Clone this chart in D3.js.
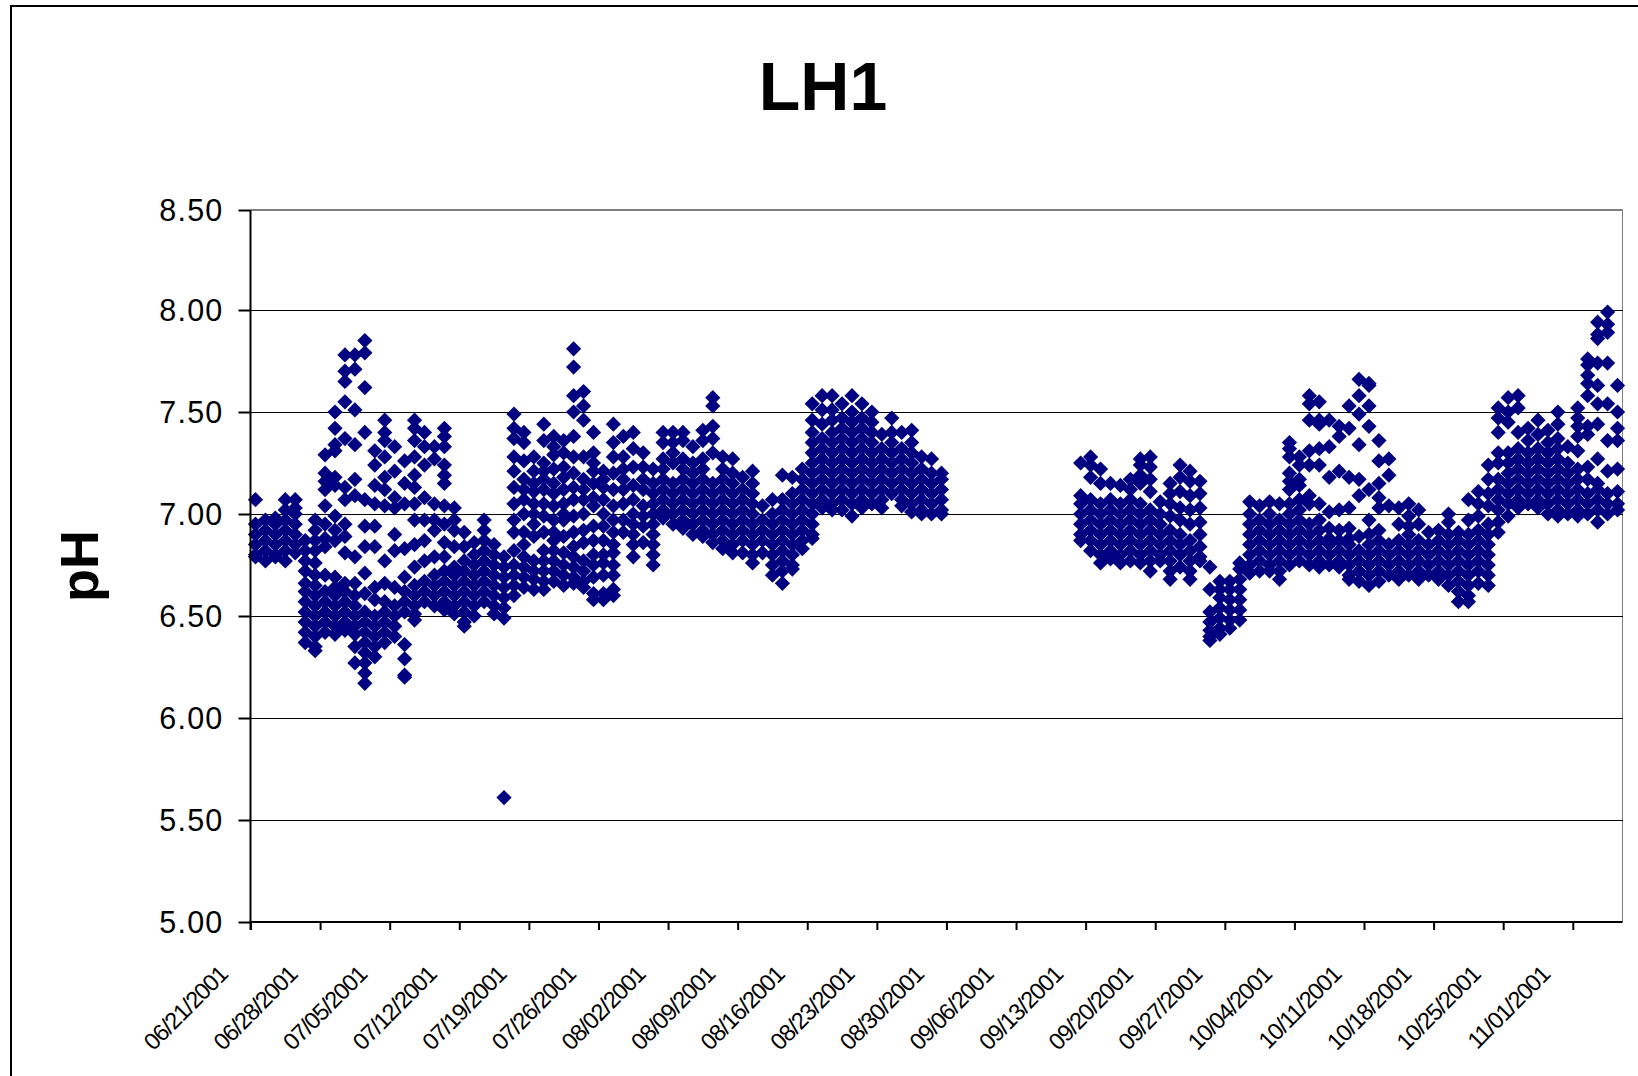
<!DOCTYPE html>
<html><head><meta charset="utf-8">
<script src="https://cdn.jsdelivr.net/npm/d3@7"></script>
<style>html,body{margin:0;padding:0;background:#fff}svg{display:block}</style>
</head><body><svg id="c" width="1638" height="1076"></svg>
<script>
const title = "LH1";
const yLabel = "pH";
const yTicks = [5, 5.5, 6, 6.5, 7, 7.5, 8, 8.5];
const tickDays = [0,7,14,21,28,35,42,49,56,63,70,77,84,91,98,105,112,119,126,133];
const tickLabels = ["06/21/2001","06/28/2001","07/05/2001","07/12/2001","07/19/2001","07/26/2001","08/02/2001","08/09/2001","08/16/2001","08/23/2001","08/30/2001","09/06/2001","09/13/2001","09/20/2001","09/27/2001","10/04/2001","10/11/2001","10/18/2001","10/25/2001","11/01/2001"];
// pH readings per day (day 0 = 06/21/2001)
const juneJuly = [
[0,[7.07,6.95,6.90,6.85,6.80,6.79]],
[1,[6.97,6.92,6.87,6.82,6.77]],
[2,[6.98,6.95,6.90,6.85,6.80,6.79]],
[3,[7.07,7.02,6.97,6.92,6.87,6.82,6.77]],
[4,[7.07,7.03,7.00,6.95,6.90,6.85,6.81]],
[5,[6.87,6.82,6.77,6.72,6.66,6.62,6.57,6.52,6.47,6.42,6.37]],
[6,[6.97,6.92,6.87,6.82,6.76,6.70,6.65,6.60,6.55,6.50,6.45,6.40,6.35,6.33]],
[7,[7.29,7.20,7.16,7.12,7.04,6.95,6.88,6.84,6.70,6.62,6.57,6.52,6.47,6.42]],
[8,[7.50,7.42,7.34,7.31,7.18,7.14,6.99,6.92,6.87,6.69,6.64,6.60,6.55,6.50,6.45,6.41]],
[9,[7.78,7.70,7.65,7.55,7.37,7.13,7.07,6.95,6.89,6.81,6.66,6.62,6.57,6.52,6.47,6.43]],
[10,[7.78,7.71,7.51,7.34,7.17,7.09,6.79,6.66,6.60,6.55,6.50,6.45,6.41,6.35,6.27]],
[11,[7.85,7.79,7.62,7.40,7.07,6.94,6.84,6.71,6.61,6.52,6.47,6.42,6.37,6.32,6.27,6.22,6.17]],
[12,[7.31,7.24,7.14,7.05,6.94,6.84,6.64,6.58,6.50,6.45,6.40,6.35,6.30]],
[13,[7.46,7.40,7.36,7.28,7.18,7.12,7.04,6.77,6.66,6.57,6.52,6.47,6.42,6.37]],
[14,[7.33,7.21,7.08,7.03,6.90,6.82,6.64,6.55,6.50,6.45,6.40]],
[15,[7.26,7.15,7.05,6.83,6.69,6.62,6.57,6.52,6.36,6.29,6.21,6.20]],
[16,[7.46,7.42,7.36,7.28,7.19,7.13,7.05,6.97,6.85,6.74,6.65,6.60,6.55,6.51,6.48]],
[17,[7.40,7.33,7.24,7.08,6.97,6.87,6.77,6.67,6.62,6.57]],
[18,[7.33,7.27,7.05,6.97,6.92,6.79,6.70,6.65,6.60,6.55]],
[19,[7.42,7.38,7.33,7.24,7.19,7.15,7.04,6.95,6.86,6.79,6.72,6.67,6.62,6.57,6.53]],
[20,[7.03,6.97,6.92,6.84,6.74,6.70,6.65,6.60,6.55,6.51]],
[21,[6.91,6.84,6.77,6.72,6.67,6.62,6.57,6.52,6.47,6.45]],
[22,[6.86,6.80,6.75,6.70,6.65,6.60,6.55,6.50]],
[23,[6.97,6.92,6.87,6.82,6.77,6.72,6.67,6.62,6.57]],
[24,[6.85,6.80,6.75,6.70,6.65,6.60,6.55,6.51]],
[25,[6.79,6.74,6.69,6.64,6.59,6.54,6.49,5.61]],
[26,[7.49,7.42,7.37,7.28,7.21,7.13,7.05,6.97,6.91,6.82,6.75,6.70,6.65,6.60]],
[27,[7.40,7.35,7.26,7.17,7.12,7.07,7.00,6.91,6.85,6.79,6.74,6.69,6.64]],
[28,[7.28,7.21,7.15,7.11,7.05,7.00,6.95,6.89,6.77,6.72,6.68,6.63]],
[29,[7.44,7.36,7.25,7.21,7.17,7.12,7.05,6.99,6.91,6.82,6.77,6.72,6.67,6.63]],
[30,[7.38,7.33,7.29,7.22,7.15,7.10,7.04,6.97,6.91,6.87,6.82,6.77,6.72,6.67]],
[31,[7.36,7.30,7.23,7.18,7.12,7.05,7.00,6.97,6.89,6.81,6.75,6.70,6.65]],
[32,[7.81,7.72,7.58,7.50,7.38,7.28,7.20,7.13,7.07,6.99,6.91,6.84,6.79,6.74,6.69,6.66]],
[33,[7.60,7.53,7.46,7.28,7.17,7.12,7.07,7.00,6.92,6.86,6.77,6.72,6.67,6.64]],
[34,[7.40,7.30,7.25,7.21,7.15,7.08,7.04,6.94,6.87,6.80,6.75,6.69,6.61,6.58]],
[35,[7.21,7.17,7.13,7.07,7.00,6.94,6.87,6.80,6.76,6.70,6.61,6.58]],
[36,[7.44,7.35,7.28,7.20,7.12,7.04,6.97,6.91,6.85,6.81,6.75,6.70,6.63,6.60]],
[37,[7.38,7.28,7.22,7.17,7.12,7.05,6.97,6.91]],
[38,[7.40,7.32,7.23,7.14,7.07,7.00,6.95,6.90,6.85,6.79]],
[39,[7.30,7.23,7.17,7.12,7.04,6.99,6.94,6.86]]
];
const august = [
[40,[7.22,7.15,7.10,7.05,7.00,6.95,6.90,6.85,6.80,6.75]],
[41,[7.40,7.35,7.27,7.22,7.17,7.12,7.07,7.02,6.98]],
[42,[7.40,7.35,7.30,7.25,7.15,7.10,7.05,7.00,6.95]],
[43,[7.40,7.36,7.27,7.22,7.17,7.12,7.07,7.02,6.97,6.93]],
[44,[7.33,7.25,7.20,7.15,7.10,7.05,7.00,6.95,6.90]],
[45,[7.41,7.36,7.27,7.22,7.17,7.12,7.07,7.02,6.97,6.92,6.89]],
[46,[7.57,7.53,7.43,7.37,7.30,7.15,7.10,7.05,7.00,6.95,6.90,6.86]],
[47,[7.28,7.22,7.17,7.12,7.07,7.02,6.97,6.92,6.87,6.83]],
[48,[7.27,7.20,7.15,7.10,7.05,7.00,6.95,6.90,6.85,6.81]],
[49,[7.18,7.12,7.07,7.02,6.97,6.92,6.87,6.81]],
[50,[7.21,7.15,7.10,7.05,7.00,6.95,6.90,6.85,6.80,6.76]],
[51,[7.04,6.97,6.92,6.87,6.81]],
[52,[7.07,7.00,6.95,6.90,6.85,6.80,6.75,6.70]],
[53,[7.19,7.07,7.02,6.97,6.92,6.87,6.82,6.77,6.72,6.66]],
[54,[7.18,7.10,7.05,7.00,6.95,6.90,6.85,6.80,6.75,6.73]],
[55,[7.22,7.17,7.12,7.07,7.02,6.97,6.92,6.87,6.83]],
[56,[7.54,7.46,7.40,7.35,7.30,7.25,7.20,7.15,7.10,7.05,7.00,6.95,6.90,6.88]],
[57,[7.58,7.51,7.44,7.37,7.32,7.27,7.22,7.17,7.12,7.07,7.03]],
[58,[7.58,7.51,7.46,7.40,7.35,7.30,7.25,7.20,7.15,7.10,7.05,7.02]],
[59,[7.54,7.47,7.42,7.37,7.32,7.27,7.22,7.17,7.12,7.07,7.02]],
[60,[7.58,7.50,7.45,7.40,7.35,7.30,7.25,7.20,7.15,7.10,7.05,6.99]],
[61,[7.54,7.47,7.42,7.37,7.32,7.27,7.22,7.17,7.12,7.07,7.03]],
[62,[7.50,7.45,7.40,7.35,7.30,7.25,7.20,7.15,7.10,7.05]],
[63,[7.39,7.32,7.27,7.22,7.17,7.12,7.07,7.03]],
[64,[7.47,7.40,7.35,7.30,7.25,7.20,7.15,7.10]],
[65,[7.40,7.32,7.27,7.22,7.17,7.12,7.07,7.04]],
[66,[7.41,7.35,7.30,7.25,7.20,7.15,7.10,7.05,7.01]],
[67,[7.28,7.22,7.17,7.12,7.07,7.02,7.00]],
[68,[7.27,7.20,7.15,7.10,7.05,7.00]],
[69,[7.20,7.17,7.12,7.07,7.02,7.00]]
];
const septOct = [
[83,[7.25,7.09,7.05,7.00,6.95,6.90,6.87]],
[84,[7.28,7.24,7.18,7.07,7.02,6.97,6.92,6.87,6.82]],
[85,[7.22,7.15,7.05,7.00,6.95,6.90,6.85,6.80,6.76]],
[86,[7.15,7.07,7.02,6.97,6.92,6.87,6.82,6.78]],
[87,[7.14,7.05,7.00,6.95,6.90,6.85,6.80,6.76]],
[88,[7.17,7.12,7.07,7.02,6.97,6.92,6.87,6.82,6.77]],
[89,[7.27,7.24,7.19,7.15,7.05,7.00,6.95,6.90,6.85,6.80,6.76]],
[90,[7.28,7.23,7.17,7.11,7.02,6.97,6.92,6.87,6.82,6.77,6.72]],
[91,[7.06,7.00,6.95,6.90,6.85,6.80,6.77]],
[92,[7.15,7.10,7.05,6.99,6.92,6.87,6.82,6.77,6.72,6.68]],
[93,[7.24,7.18,7.11,7.03,6.97,6.90,6.85,6.80,6.74]],
[94,[7.21,7.16,7.09,7.02,6.95,6.87,6.82,6.77,6.72,6.68]],
[95,[7.16,7.10,7.03,6.96,6.90,6.84,6.79,6.77]],
[96,[6.74,6.63,6.52,6.47,6.43,6.40,6.38]],
[97,[6.67,6.63,6.59,6.54,6.49,6.44,6.41]],
[98,[6.67,6.63,6.58,6.53,6.48,6.44]],
[99,[6.76,6.73,6.68,6.63,6.58,6.53,6.48]],
[100,[7.06,7.00,6.95,6.90,6.85,6.80,6.75,6.71]],
[101,[7.04,6.97,6.92,6.87,6.82,6.77,6.72]],
[102,[7.06,7.00,6.95,6.90,6.85,6.80,6.75,6.72]],
[103,[7.05,6.97,6.92,6.87,6.82,6.77,6.72,6.68]],
[104,[7.35,7.32,7.28,7.20,7.16,7.12,7.05,7.00,6.95,6.90,6.85,6.80,6.75]],
[105,[7.28,7.24,7.17,7.14,7.07,7.02,6.97,6.92,6.87,6.82,6.77]],
[106,[7.58,7.54,7.46,7.31,7.24,7.09,7.05,6.95,6.90,6.85,6.80,6.75]],
[107,[7.55,7.46,7.44,7.32,7.24,7.05,6.97,6.92,6.87,6.82,6.77,6.74]],
[108,[7.46,7.33,7.18,7.01,6.93,6.88,6.85,6.80,6.75]],
[109,[7.43,7.38,7.21,7.02,6.92,6.87,6.82,6.77,6.74]]
];
const octNov = [
[110,[7.53,7.42,7.18,7.03,6.93,6.88,6.85,6.80,6.75,6.70,6.68]],
[111,[7.66,7.58,7.49,7.34,7.17,7.09,6.89,6.82,6.77,6.72,6.67]],
[112,[7.64,7.63,7.53,7.43,7.12,6.97,6.90,6.85,6.80,6.75,6.70,6.65]],
[113,[7.36,7.26,7.15,7.08,7.03,6.92,6.87,6.82,6.77,6.72,6.67]],
[114,[7.27,7.19,7.04,6.85,6.80,6.75,6.70]],
[115,[7.03,6.95,6.87,6.82,6.77,6.72,6.68]],
[116,[7.05,6.99,6.94,6.90,6.85,6.80,6.75,6.70]],
[117,[7.02,6.95,6.87,6.82,6.77,6.72,6.68]],
[118,[6.91,6.85,6.80,6.75,6.70]],
[119,[6.92,6.87,6.82,6.77,6.72,6.68]],
[120,[7.00,6.96,6.90,6.85,6.80,6.75,6.70,6.65]],
[121,[6.91,6.87,6.82,6.77,6.72,6.67,6.62,6.57]],
[122,[7.07,6.97,6.90,6.85,6.80,6.75,6.70,6.65,6.60,6.57]],
[123,[7.11,7.05,6.99,6.92,6.87,6.82,6.77,6.72,6.66]],
[124,[7.24,7.17,7.10,7.04,6.95,6.90,6.85,6.80,6.75,6.70,6.65]],
[125,[7.52,7.47,7.40,7.30,7.25,7.17,7.12,7.07,7.02,6.96,6.91]],
[126,[7.57,7.50,7.45,7.30,7.25,7.20,7.15,7.10,7.05,6.99]],
[127,[7.58,7.52,7.40,7.32,7.27,7.22,7.17,7.12,7.07,7.03]],
[128,[7.42,7.36,7.30,7.25,7.20,7.15,7.10,7.05]],
[129,[7.46,7.39,7.32,7.27,7.22,7.17,7.12,7.07,7.03]],
[130,[7.41,7.35,7.30,7.25,7.20,7.15,7.10,7.05,7.00]],
[131,[7.50,7.44,7.37,7.32,7.27,7.22,7.17,7.12,7.07,7.02,6.99]],
[132,[7.33,7.25,7.20,7.15,7.10,7.05,7.00]],
[133,[7.52,7.47,7.43,7.38,7.31,7.22,7.17,7.12,7.07,7.02,6.99]],
[134,[7.76,7.73,7.68,7.64,7.58,7.43,7.39,7.23,7.17,7.10,7.05,7.00]],
[135,[7.94,7.88,7.86,7.74,7.63,7.54,7.44,7.27,7.15,7.12,7.07,7.02,6.96]],
[136,[7.99,7.93,7.89,7.74,7.54,7.36,7.21,7.10,7.05,7.00]],
[137,[7.63,7.50,7.42,7.36,7.22,7.11,7.05,7.02]]
];

const points = [...juneJuly, ...august, ...septOct, ...octNov]
  .flatMap(([day, vals]) => vals.map(v => ({day, v})));

const svg = d3.select("#c");
const font = "'Liberation Sans', Arial, sans-serif";
const navy = "#000080";
const x = d3.scaleLinear().domain([0, 138]).range([250.5, 1622.5]);
const y = d3.scaleLinear().domain([5, 8, 8.5]).range([922, 310, 210]);

// outer frame
svg.append("path").attr("d", "M11,1076V6H1638").attr("fill","none").attr("stroke","#000").attr("stroke-width",2);
// plot frame (top, right)
svg.append("path").attr("d", `M${x(0)},${y(8.5)}H${x(138)}V${y(5)}`).attr("fill","none").attr("stroke","#808080").attr("stroke-width",1.5).attr("shape-rendering","crispEdges");
// gridlines
svg.append("g").selectAll("line").data(yTicks.filter(t=>t>5&&t<8.5)).join("line")
  .attr("x1",x(0)).attr("x2",x(138)).attr("y1",d=>y(d)).attr("y2",d=>y(d))
  .attr("stroke","#000").attr("stroke-width",1).attr("shape-rendering","crispEdges");

// points
svg.append("g").selectAll("path").data(points).join("path")
  .attr("d", d3.symbol(d3.symbolSquare, 116))
  .attr("transform", d => `translate(${x(d.day+0.5)},${y(d.v)}) rotate(45)`)
  .attr("fill", navy);

// y axis
const ya = svg.append("g").attr("transform",`translate(${x(0)},0)`)
  .call(d3.axisLeft(y).tickValues(yTicks).tickFormat(d3.format(".2f")).tickSize(12).tickPadding(15));
ya.select(".domain").attr("stroke","#000").attr("stroke-width",2).attr("d",`M0,${y(8.5)}V${y(5)+8}`);
ya.selectAll(".tick line").attr("stroke","#000").attr("stroke-width",2);
ya.selectAll("text").attr("font-family",font).attr("font-size",30.5).attr("letter-spacing",1.2).attr("fill","#000").attr("dy","0.36em");

// x axis
const labelByDay = new Map(tickDays.map((d,i)=>[d,tickLabels[i]]));
const xa = svg.append("g").attr("transform",`translate(0,${y(5)})`)
  .call(d3.axisBottom(x).tickValues(tickDays).tickFormat(d=>labelByDay.get(d)).tickSize(8));
xa.select(".domain").attr("stroke","#000").attr("stroke-width",2).attr("d",`M${x(0)},0H${x(138)}`);
xa.selectAll(".tick line").attr("stroke","#000").attr("stroke-width",2);
xa.selectAll("text").attr("font-family",font).attr("font-size",23.5).attr("letter-spacing",-1.1).attr("fill","#000")
  .attr("text-anchor","end").attr("dy",0).attr("y",0)
  .attr("transform","translate(-22,54) rotate(-45)");

svg.append("text").attr("x",823).attr("y",110).attr("text-anchor","middle")
  .attr("font-family",font).attr("font-weight","bold").attr("font-size",68).text(title);
svg.append("text").attr("transform","translate(98,566) rotate(-90)").attr("text-anchor","middle")
  .attr("font-family",font).attr("font-weight","bold").attr("font-size",54).text(yLabel);
</script></body></html>
